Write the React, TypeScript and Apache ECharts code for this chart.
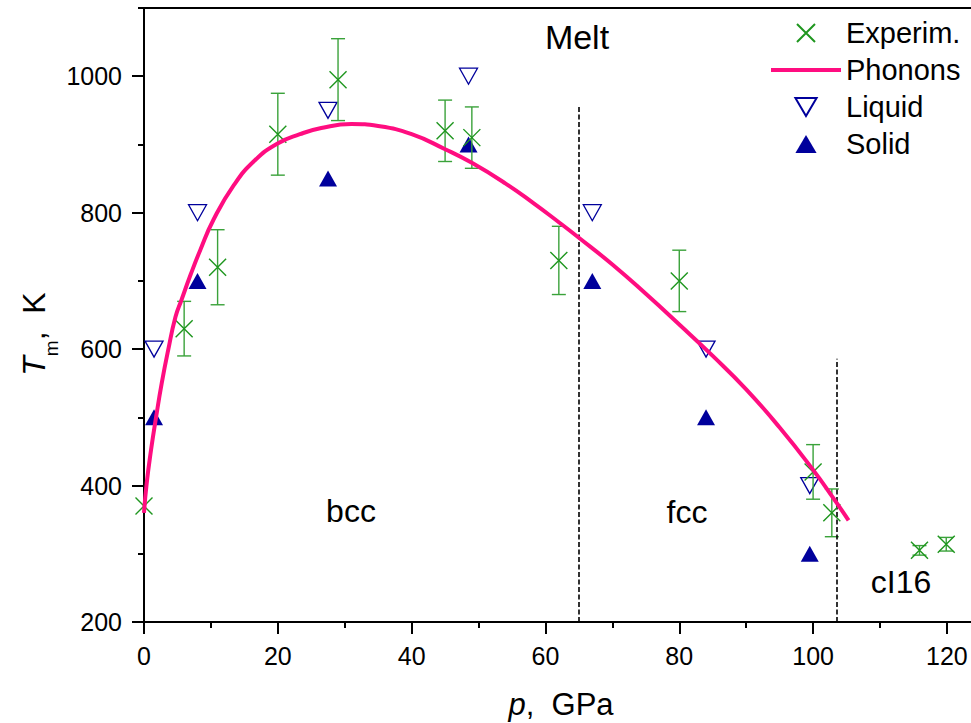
import React, { useEffect, useRef } from "react";
import * as echarts from "echarts";

// ---- data ----
const expX = [0, 6, 11, 20, 29, 45, 49, 62, 80, 100, 102.8, 115.9, 119.9];
const expY = [370, 630, 720, 915, 995, 920, 910, 730, 700, 420, 360, 305, 314];
const expErr = [0, 40, 55, 60, 60, 45, 45, 50, 45, 40, 35, 7, 10];

const phonX = [0, 0.4, 1.05, 1.8, 2.65, 3.6, 4.7, 5.6, 7, 8.4, 10.4, 13.4, 16.5, 19.9, 23.3, 26.5, 31, 35, 40, 45, 49, 54, 58.2, 62, 64.9, 70, 75, 80, 85, 90, 95, 100, 103, 105.3];
const phonY = [360, 403, 452, 500, 550, 598, 647, 672, 710, 745, 790, 840, 876, 901, 915, 924, 930, 927, 915, 893, 873, 843, 814, 786, 764, 724, 681, 636, 590, 541, 485, 423, 382, 349];

const liqX = [1.5, 8, 27.5, 48.5, 67, 84, 99.5];
const liqY = [600, 800, 950, 1000, 800, 600, 400];

const solX = [1.5, 8, 27.5, 48.5, 67, 84, 99.5];
const solY = [500, 700, 850, 900, 700, 500, 300];

const xMajor = [0, 20, 40, 60, 80, 100, 120];
const xMinor = [10, 30, 50, 70, 90, 110];
const yMajor = [200, 400, 600, 800, 1000];
const yMinor = [300, 500, 700, 900, 1100];

const phaseLines = [
  { x: 65, top: 955 },
  { x: 103.5, top: 586 },
];

const FONT = "'Liberation Sans', Arial, sans-serif";
const GREEN = "#1e961e";
const GREEN_BAR = "#3aa23a";
const PINK = "#ff0d80";
const NAVY = "#00009c";

export default function App() {
  const ref = useRef<HTMLDivElement>(null);

  useEffect(() => {
    document.body.style.margin = "0";
    if (!ref.current) return;
    const chart = echarts.init(ref.current, null, { renderer: "svg" });

    const expData = expX.map((x, i) => [x, expY[i]]);
    const errData = expX.map((x, i) => [x, expY[i] - expErr[i], expY[i] + expErr[i]]);
    const phonData = phonX.map((x, i) => [x, phonY[i]]);
    const liqData = liqX.map((x, i) => [x, liqY[i]]);
    const solData = solX.map((x, i) => [x, solY[i]]);

    const baseX = {
      type: "value",
      min: 0,
      max: 123.6,
      splitLine: { show: false },
    };
    const baseY = {
      type: "value",
      min: 200,
      max: 1100,
      splitLine: { show: false },
    };
    const plain = (v: number) => String(v);

    const option: any = {
      animation: false,
      textStyle: { fontFamily: FONT },
      grid: { left: 144, top: 8, right: 0, bottom: 101, containLabel: false },
      xAxis: [
        {
          ...baseX,
          position: "bottom",
          axisLine: { show: true, lineStyle: { color: "#000", width: 2 } },
          axisTick: { show: true, length: 12, lineStyle: { color: "#000", width: 2 }, customValues: xMajor },
          axisLabel: { show: true, fontSize: 25, color: "#000", margin: 21, fontFamily: FONT, customValues: xMajor, formatter: plain },
        },
        {
          ...baseX,
          position: "bottom",
          axisLine: { show: false },
          axisTick: { show: true, length: 6, lineStyle: { color: "#000", width: 2 }, customValues: xMinor },
          axisLabel: { show: false },
        },
        {
          ...baseX,
          position: "top",
          axisLine: { show: true, lineStyle: { color: "#000", width: 2 } },
          axisTick: { show: false },
          axisLabel: { show: false },
        },
      ],
      yAxis: [
        {
          ...baseY,
          position: "left",
          axisLine: { show: true, lineStyle: { color: "#000", width: 2 } },
          axisTick: { show: true, length: 12, lineStyle: { color: "#000", width: 2 }, customValues: yMajor },
          axisLabel: { show: true, fontSize: 25, color: "#000", margin: 22, fontFamily: FONT, customValues: yMajor, formatter: plain },
        },
        {
          ...baseY,
          position: "left",
          offset: 0,
          axisLine: { show: false },
          axisTick: { show: true, length: 6, lineStyle: { color: "#000", width: 2 }, customValues: yMinor },
          axisLabel: { show: false },
        },
      ],
      legend: {
        orient: "vertical",
        left: 771,
        top: 18.5,
        padding: 0,
        itemWidth: 70,
        itemHeight: 18,
        itemGap: 8,
        data: [
          { name: "Experim." },
          { name: "Phonons", icon: "path://M0,0L70,0L70,4L0,4Z" },
          { name: "Liquid" },
          { name: "Solid", icon: "path://M10,0L20,17L0,17Z" },
        ],
        textStyle: { fontSize: 29, lineHeight: 29, color: "#000", fontFamily: FONT },
      },
      series: [
        {
          name: "Solid",
          type: "scatter",
          data: solData,
          symbol: "triangle",
          symbolSize: [18, 16],
          itemStyle: { color: NAVY, opacity: 1 },
          z: 2,
        },
        {
          name: "Liquid",
          type: "scatter",
          data: liqData,
          symbol: "path://M0,0L20,0L10,17Z",
          symbolSize: [18, 16],
          itemStyle: { color: "rgba(255,255,255,0)", borderColor: NAVY, borderWidth: 1.3, opacity: 1 },
          z: 3,
        },
        {
          name: "errbars",
          type: "custom",
          data: errData,
          z: 4,
          silent: true,
          renderItem: (params: any, api: any) => {
            const x = api.value(0);
            const lo = api.value(1);
            const hi = api.value(2);
            if (hi - lo <= 0) return null;
            const pHi = api.coord([x, hi]);
            const pLo = api.coord([x, lo]);
            const w = 7;
            const st = { stroke: GREEN_BAR, lineWidth: 1.4 };
            return {
              type: "group",
              children: [
                { type: "line", shape: { x1: pHi[0], y1: pHi[1], x2: pLo[0], y2: pLo[1] }, style: st },
                { type: "line", shape: { x1: pHi[0] - w, y1: pHi[1], x2: pHi[0] + w, y2: pHi[1] }, style: st },
                { type: "line", shape: { x1: pLo[0] - w, y1: pLo[1], x2: pLo[0] + w, y2: pLo[1] }, style: st },
              ],
            };
          },
        },
        {
          name: "Experim.",
          type: "scatter",
          data: expData,
          symbol: "path://M0,0L10,10M10,0L0,10",
          symbolSize: 17,
          itemStyle: { color: "rgba(255,255,255,0)", borderColor: GREEN, borderWidth: 1.4, opacity: 1 },
          z: 5,
        },
        {
          name: "Phonons",
          type: "line",
          data: phonData,
          showSymbol: false,
          symbol: "none",
          smooth: 0.5,
          lineStyle: { color: PINK, width: 4 },
          itemStyle: { color: PINK },
          z: 6,
          markLine: {
            silent: true,
            symbol: ["none", "none"],
            label: { show: false },
            lineStyle: { color: "#000", width: 1.6, type: [5, 2.5] },
            data: phaseLines.map((l) => [
              { coord: [l.x, 200] },
              { coord: [l.x, l.top] },
            ]),
          },
        },
      ],
      graphic: [
        { type: "text", x: 577, y: 37, style: { text: "Melt", font: `34px ${FONT}`, fill: "#000", align: "center", verticalAlign: "middle" } },
        { type: "text", x: 351, y: 511, style: { text: "bcc", font: `32px ${FONT}`, fill: "#000", align: "center", verticalAlign: "middle" } },
        { type: "text", x: 687, y: 512, style: { text: "fcc", font: `32px ${FONT}`, fill: "#000", align: "center", verticalAlign: "middle" } },
        { type: "text", x: 901, y: 582, style: { text: "cI16", font: `32px ${FONT}`, fill: "#000", align: "center", verticalAlign: "middle" } },
        {
          type: "text",
          x: 561,
          y: 704,
          style: {
            text: "{i|p}{n|,  GPa}",
            align: "center",
            verticalAlign: "middle",
            rich: {
              i: { fontSize: 31, fontStyle: "italic", fontFamily: FONT, fill: "#000", lineHeight: 32 },
              n: { fontSize: 31, fontFamily: FONT, fill: "#000", lineHeight: 32 },
            },
          },
        },
        {
          type: "text",
          x: 33.5,
          y: 334,
          rotation: Math.PI / 2,
          style: {
            text: "{i|T}{s|m}{n|,  K}",
            align: "center",
            verticalAlign: "middle",
            rich: {
              i: { fontSize: 32, fontStyle: "italic", fontFamily: FONT, fill: "#000", lineHeight: 32, verticalAlign: "top" },
              s: { fontSize: 19, fontFamily: FONT, fill: "#000", lineHeight: 21, padding: [24, 0, 0, 0], verticalAlign: "top" },
              n: { fontSize: 32, fontFamily: FONT, fill: "#000", lineHeight: 32, verticalAlign: "top" },
            },
          },
        },
      ],
    };

    chart.setOption(option);
    return () => chart.dispose();
  }, []);

  return <div ref={ref} style={{ width: 971, height: 723 }} />;
}
